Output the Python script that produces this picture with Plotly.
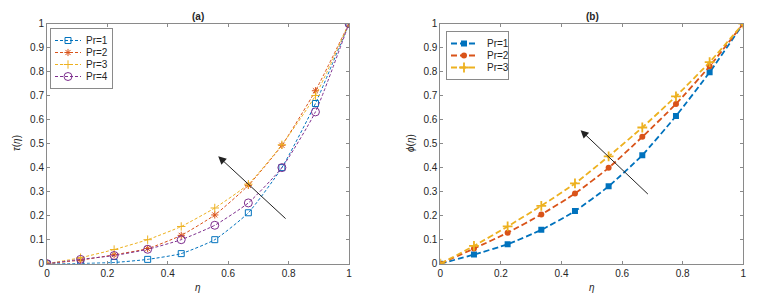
import plotly.graph_objects as go

eta = [0, 1/9, 2/9, 3/9, 4/9, 5/9, 6/9, 7/9, 8/9, 1]

# Panel (a): tau(eta)
tau_pr1 = [0, 0.001, 0.005, 0.018, 0.042, 0.100, 0.212, 0.400, 0.667, 1.0]
tau_pr2 = [0, 0.015, 0.037, 0.063, 0.118, 0.203, 0.326, 0.493, 0.720, 1.0]
tau_pr3 = [0, 0.025, 0.059, 0.100, 0.155, 0.232, 0.331, 0.495, 0.700, 1.0]
tau_pr4 = [0, 0.018, 0.034, 0.060, 0.100, 0.160, 0.253, 0.400, 0.632, 1.0]

# Panel (b): phi(eta)
phi_pr1 = [0, 0.038, 0.081, 0.141, 0.219, 0.322, 0.452, 0.615, 0.797, 1.0]
phi_pr2 = [0, 0.063, 0.129, 0.205, 0.292, 0.399, 0.528, 0.665, 0.822, 1.0]
phi_pr3 = [0, 0.074, 0.155, 0.241, 0.334, 0.447, 0.567, 0.697, 0.839, 1.0]

x_ticks = [0, 0.2, 0.4, 0.6, 0.8, 1]
x_tick_labels = ["0", "0.2", "0.4", "0.6", "0.8", "1"]
y_ticks = [0, 0.1, 0.2, 0.3, 0.4, 0.5, 0.6, 0.7, 0.8, 0.9, 1]
y_tick_labels = ["0", "0.1", "0.2", "0.3", "0.4", "0.5", "0.6", "0.7", "0.8", "0.9", "1"]

BLUE = "#0072BD"
ORANGE = "#D95319"
YELLOW = "#EDB120"
PURPLE = "#7E2F8E"

fig = go.Figure()

left_series = [
    ("Pr=1", tau_pr1, BLUE, "square-open"),
    ("Pr=2", tau_pr2, ORANGE, "asterisk-open"),
    ("Pr=3", tau_pr3, YELLOW, "cross-thin-open"),
    ("Pr=4", tau_pr4, PURPLE, "circle-open"),
]
for name, ys, col, sym in left_series:
    fig.add_trace(go.Scatter(
        x=eta, y=ys, name=name, mode="lines+markers",
        line=dict(color=col, width=1, dash="3px,2px", shape="spline", smoothing=0.5),
        marker=dict(symbol=sym, size=6 if sym != "circle-open" else 8,
                    color=col, line=dict(color=col, width=1)),
        xaxis="x", yaxis="y", legend="legend",
    ))

right_series = [
    ("Pr=1", phi_pr1, BLUE, "square"),
    ("Pr=2", phi_pr2, ORANGE, "circle"),
    ("Pr=3", phi_pr3, YELLOW, "cross-thin-open"),
]
for name, ys, col, sym in right_series:
    fig.add_trace(go.Scatter(
        x=eta, y=ys, name=name, mode="lines+markers",
        line=dict(color=col, width=1.8, dash="6px,3px", shape="spline", smoothing=0.5),
        marker=dict(symbol=sym, size=6 if sym != "cross-thin-open" else 7,
                    color=col, line=dict(color=col, width=1.8 if sym == "cross-thin-open" else 0)),
        xaxis="x2", yaxis="y2", legend="legend2",
    ))

W, H = 781, 298
def px(v): return v / W
def py(v): return 1 - v / H

axis_common = dict(
    range=[0, 1], showgrid=False, zeroline=False, showline=True,
    linecolor="#8a8a8a", linewidth=1, mirror="ticks",
    ticks="inside", ticklen=3, tickcolor="#8a8a8a", automargin=False,
    tickfont=dict(family="Liberation Sans, Arial", size=10, color="#262626"),
)

leg_font = dict(family="Liberation Sans, Arial", size=10, color="#262626")
fig.update_layout(
    width=W, height=H, autosize=False,
    margin=dict(l=0, r=0, t=0, b=0, pad=0),
    paper_bgcolor="white", plot_bgcolor="white",
    xaxis=dict(domain=[px(47), px(349)], anchor="y", tickvals=x_ticks, ticktext=x_tick_labels, **axis_common),
    yaxis=dict(domain=[py(263.7), py(23.5)], anchor="x", tickvals=y_ticks, ticktext=y_tick_labels, **axis_common),
    xaxis2=dict(domain=[px(440.3), px(743.3)], anchor="y2", tickvals=x_ticks, ticktext=x_tick_labels, **axis_common),
    yaxis2=dict(domain=[py(263.7), py(23.5)], anchor="x2", tickvals=y_ticks, ticktext=y_tick_labels, **axis_common),
    legend=dict(x=px(50), y=py(28), xanchor="left", yanchor="top",
                bgcolor="white", bordercolor="#8a8a8a", borderwidth=1,
                font=leg_font, itemwidth=30, tracegroupgap=0),
    legend2=dict(x=px(446), y=py(31), xanchor="left", yanchor="top",
                 bgcolor="white", bordercolor="#8a8a8a", borderwidth=1,
                 font=leg_font, itemwidth=30, tracegroupgap=0),
    showlegend=True,
)

font_t = dict(family="Liberation Sans, Arial", size=10, color="#262626")
def lbl(text, x, y, angle=0):
    return dict(text=text, x=px(x), y=py(y), xref="paper", yref="paper", showarrow=False,
                xanchor="center", yanchor="middle", textangle=angle, font=font_t)

annots = [
    lbl("<b>(a)</b>", 198, 17),
    lbl("<b>(b)</b>", 592, 17),
    lbl("<i>η</i>", 198, 287),
    lbl("<i>η</i>", 592, 287),
    lbl("<i>τ</i>(<i>η</i>)", 17, 143, -90),
    lbl("<i>ϕ</i>(<i>η</i>)", 411, 143, -90),
    # arrows
    dict(x=0.567, y=0.447, ax=0.795, ay=0.182, xref="x", yref="y", axref="x", ayref="y",
         showarrow=True, arrowhead=2, arrowsize=1.6, arrowwidth=1, arrowcolor="#222", text=""),
    dict(x=0.463, y=0.556, ax=0.69, ay=0.284, xref="x2", yref="y2", axref="x2", ayref="y2",
         showarrow=True, arrowhead=2, arrowsize=1.6, arrowwidth=1, arrowcolor="#222", text=""),
]
fig.update_layout(annotations=annots)

# Compact the legends (tighter row spacing, shorter samples) like the MATLAB original
post_js = r"""
document.body.style.margin='0';document.body.style.overflow='hidden';
var gd=document.querySelector('.plotly-graph-div');
function getT(el){var m=/translate\(\s*([-\d.e]+)[ ,]+([-\d.e]+)\s*\)/.exec(el.getAttribute('transform')||'');return m?[parseFloat(m[1]),parseFloat(m[2])]:[0,0];}
gd.querySelectorAll('g.legend, g.legend2').forEach(function(lg){
  var traces=lg.querySelectorAll('g.traces');
  if(traces.length<2)return;
  var p0=getT(traces[0]),p1=getT(traces[1]);
  var oldStep=p1[1]-p0[1],step=12,top=p0[1]-3;
  traces.forEach(function(t,i){
    var p=getT(t);
    t.setAttribute('transform','translate('+p[0]+','+(top+i*step)+')');
    var txt=t.querySelector('text.legendtext');
    if(txt){txt.setAttribute('x',parseFloat(txt.getAttribute('x'))-5);}
    t.querySelectorAll('g.legendlines path').forEach(function(pa){pa.setAttribute('d','M4,0h26');});
    t.querySelectorAll('g.legendpoints path').forEach(function(pa){
      var tr=pa.getAttribute('transform')||'';pa.setAttribute('transform',tr.replace(/translate\(\s*20/,'translate(17'));});
  });
  var shrink=(oldStep-step)*(traces.length-1)+6;
  var bg=lg.querySelector('rect.bg');
  bg.setAttribute('height',parseFloat(bg.getAttribute('height'))-shrink);
  bg.setAttribute('width',parseFloat(bg.getAttribute('width'))-6);
});
"""

fig.write_html("out.html", config={"displayModeBar": False}, post_script=post_js)
